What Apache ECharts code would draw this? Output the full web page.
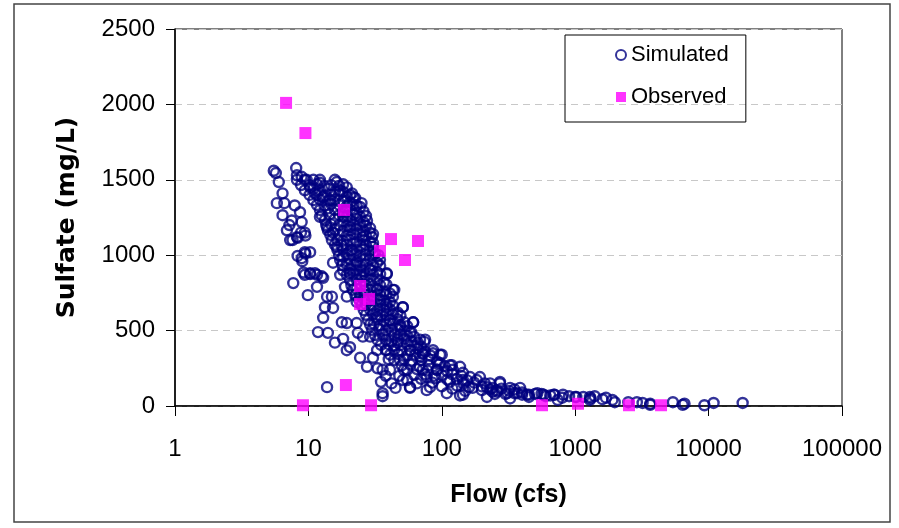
<!DOCTYPE html>
<html lang="en">
<head>
    <meta charset="UTF-8">
    <title>Sulfate vs Flow</title>
    <script src="https://cdn.jsdelivr.net/npm/echarts@6/dist/echarts.min.js"></script>
    <style>
        html, body { margin: 0; padding: 0; background: #fff; }
        #main { width: 899px; height: 528px; }
    </style>
</head>
<body>
<div id="main"></div>
<script type="text/javascript">
    // simulated points, [flow (cfs), sulfate (mg/L)]
    var leftBranch = [
        [5.5,1560],[5.7,1545],[6.0,1485],[6.4,1410],[5.8,1345],[6.6,1345],[7.9,1330],[6.4,1265],
        [7.5,1230],[8.9,1220],[6.9,1165],[8.2,1120],[9.4,1150],[8.65,1285],[7.3,1100],[8.3,995],
        [9.4,1020],[10.3,1020],[8.9,980],[7.7,815],[9.4,870],[10.3,875],[11.6,870],[12.9,850],
        [9.9,735],[11.6,790],[13.8,725],[15,725],[13.3,655],[15.3,650],[12.9,585],[11.8,490],
        [14,485],[17.8,555],[19.4,550],[23,550],[15.8,420],[18.2,445],[20.5,390],[19.4,370],
        [23.5,485],[25.6,460],[13.8,125],[36,65],[24.4,320],[27.5,260],[30.5,320],[32.7,370],
        [7.2,1200],[8.8,1150],[9.5,1130],[7.6,1100],[8.3,1115],[9.5,1010],[9.0,960],[9.2,885],
        [10.3,880],[11.2,880],[12.6,860]
    ];
    var mainBranch = [
        [8.1,1578],[8.2,1530],[8.9,1520],[9.7,1500],[10.3,1450],[12.2,1500],[11.2,1410],[12.9,1385],
        [16.3,1485],[17.3,1430],[14.5,1365],[21.2,1410],[22.4,1380],[25,1345],[12.2,1255],[13.8,1185],
        [15.3,1150],[18.2,1255],[20.5,1185],[27.5,1230],[29,1180],[25.6,1120],[30,1120],[34.4,970],
        [30.5,1055],[16.3,1055],[18.2,990],[21.2,1035],[23,950],[20.5,880],[25,855],[29,900],
        [38.7,875],[43,770],[15.3,950],[17.3,870],[18.8,790],[19.4,725],[23,690],[32.7,770],
        [34.4,705],[38.7,655],[51,655],[61,555],[32.7,590],[40.9,570],[48.6,525],[57.8,485],
        [68.7,440],[46.6,420],[57.8,370],[72,350],[38.7,370],[48.6,305],[40.9,240],[55,172],
        [65,150],[57.8,120],[77,192],[29,460]
    ];
    var denseCore = [
        [8.2,1500],[9.4,1500],[10.9,1500],[12.2,1480],[15.8,1500],[18.2,1470],
        [9.4,1430],[10.9,1440],[12.2,1430],[14,1440],[15.8,1420],[18.2,1420],[20.5,1400],
        [10.9,1365],[12.2,1370],[14,1360],[15.8,1370],[18.2,1360],[20.5,1350],[23,1330],
        [12.2,1300],[14,1310],[15.8,1300],[18.2,1290],[20.5,1300],[23,1280],[25.9,1290],
        [13.3,1233],[15.8,1240],[18.2,1225],[20.5,1230],[23,1240],[25.9,1220],
        [14,1165],[15.8,1170],[18.2,1160],[20.5,1165],[23,1170],[25.9,1160],[29,1150],
        [15,1100],[16.5,1100],[18.2,1095],[20.5,1100],[23,1090],[25.9,1100],[29,1085],
        [16.5,1035],[18.2,1040],[20.5,1030],[23,1035],[25.9,1040],[29,1030],[31.6,1010],
        [17.3,968],[20.5,970],[23,960],[25.9,968],[29,975],[32.7,950],
        [18.2,900],[20.5,910],[23,900],[25.9,895],[29,905],[32.7,890],
        [20.5,835],[23,840],[25.9,830],[29,835],[32.7,840],[36.8,820],
        [21.5,770],[23,775],[25.9,765],[29,770],[32.7,775],[36.8,760],[40.9,745],
        [24,703],[25.9,710],[29,700],[32.7,705],[36.8,700],[40.9,690],
        [26,636],[29,640],[32.7,630],[36.8,636],[40.9,640],[46.6,620],
        [28,570],[32.7,575],[36.8,565],[40.9,570],[46.6,575],[52.4,555],
        [30,505],[34,510],[38,500],[42,505],[46.6,510],[52.4,500],[58.9,490],
        [33,438],[38,440],[42,430],[46.6,438],[52.4,445],[58.9,430],[66,420],
        [38,370],[44,375],[50,365],[58,370],[66,380],[75,360],
        [44,305],[52,310],[60,300],[70,305],[80,310],[92,295],
        [55,240],[65,245],[78,235],[92,240],[110,230],
        [70,180],[90,185],[110,175],[130,180],[155,170],
        [100,130],[130,135],[160,125],[200,130],[240,120],
        [150,100],[200,105],[260,95],[320,100],[400,90],
        [300,80],[400,75],[500,80],[650,70],
        [450,60],[600,65],[800,55],[1000,60],[1300,50]
    ];
    var denseFill = [
        [8.8,1465],[10.2,1465],[11.6,1470],[13.2,1460],[14.8,1465],[17,1460],[19.4,1450],
        [10.2,1400],[11.6,1400],[13.2,1395],[14.8,1400],[17,1405],[19.4,1390],[21.8,1385],
        [11.6,1333],[13.2,1330],[14.8,1340],[17,1333],[19.4,1325],[21.8,1335],[24.4,1320],
        [12.6,1265],[14.4,1270],[17,1265],[19.4,1260],[21.8,1270],[24.4,1255],[27,1260],
        [13.6,1200],[14.8,1205],[17,1200],[19.4,1195],[21.8,1200],[24.4,1205],[27,1195],
        [14.6,1135],[17,1135],[19.4,1130],[21.8,1140],[24.4,1135],[27,1130],[30.5,1140],
        [15.8,1070],[17.7,1065],[19.4,1070],[21.8,1075],[24.4,1065],[27,1070],[30.5,1080],
        [17,1000],[19.4,1005],[21.8,1000],[24.4,995],[27,1000],[30.5,1005],[33.5,1000],
        [18,935],[19.4,940],[21.8,935],[24.4,930],[27,940],[30.5,935],[34.5,930],
        [19.4,870],[21.8,875],[24.4,870],[27,865],[30.5,870],[34.5,875],
        [21,800],[24.4,805],[27,800],[30.5,795],[34.5,800],[38.5,805],
        [22.5,735],[24.4,740],[27,735],[30.5,730],[34.5,735],[38.5,740],[43,725],
        [25,670],[27,675],[30.5,665],[34.5,670],[38.5,675],[43,665],
        [27,605],[30.5,610],[34.5,600],[38.5,605],[43,610],[49,600],
        [29,540],[31,545],[34.5,535],[38.5,540],[43,545],[49,535],[55,530],
        [31.5,470],[36,475],[40,465],[44,470],[49,475],[55,465],[62,460],
        [35,405],[40,410],[44,400],[49,405],[55,410],[62,400],[70,395],
        [41,340],[47,345],[55,335],[63,340],[72,345],[82,335],
        [50,270],[58,275],[68,265],[80,270],[95,275],[105,265],
        [62,205],[75,210],[88,200],[100,205],[120,210],[140,200],
        [85,155],[115,160],[145,150],[175,155],[210,150],
        [120,115],[170,120],[230,110],[280,115],[350,110],
        [250,80],[350,85],[450,75],[560,80],[700,75],
        [900,65],[1150,60],[1400,65],[1700,55]
    ];
    var tail = [
        [38.7,880],[44,770],[51,655],[61,555],[75,440],[86,370],[97,340],[115,270],
        [137,260],[163,192],[193,192],[230,150],[273,150],[325,120],[366,85],[109,85],
        [81.6,125],[137,70],[51,172],[57.8,125],[36,85],[36,240],[72,240],[92,240],
        [68.7,325],[97,285],[121,240],[144,220],[183,172],[218,125],[260,105],[310,85],
        [74,425],[86,350],[100,340],[119,270],[273,160],[386,120],[520,85],[580,75],
        [690,75],[810,75],[1020,60],[1290,60],[1600,45],[1900,40],[2500,25],[2900,25],
        [3200,20],[3650,15],[5400,25],[6600,15],[9300,5],[10900,20],[18000,20],[325,50],
        [435,75],[240,95],[144,172],[77,105],[144,75],[218,60],[740,40],[1290,40],
        [1980,25],[3650,8],[6400,8],
        [33,250],[38,200],[42,150],[45,120],[48,200],[40,310],[52,240],[35,160]
    ];

    // observed samples
    var observedFlow    = [6.8, 9.5, 18.5, 34.4, 41.6, 53, 66.3, 24.4, 28.5, 24.4, 19.1, 9.1, 29.5, 564, 1050, 2530, 4400];
    var observedSulfate = [2010, 1810, 1300, 1028, 1107, 968, 1094, 796, 710, 676, 139, 5, 5, 5, 15, 5, 5];

    var simulated = leftBranch.concat(mainBranch, denseCore, denseFill, tail);
    var observed = observedFlow.map(function (f, i) { return [f, observedSulfate[i]]; });

    var myChart = echarts.init(document.getElementById('main'));
    var font = 'Liberation Sans, Arial, sans-serif';

    var option = {
        animation: false,
        backgroundColor: '#fff',
        textStyle: { fontFamily: font, color: '#000' },
        graphic: [{
            type: 'rect',
            shape: { x: 14, y: 4, width: 876, height: 518 },
            style: { fill: 'none', stroke: '#444', lineWidth: 1.5 },
            silent: true
        }],
        grid: {
            left: 175, top: 29, right: 57, bottom: 122,
            show: true, borderColor: '#000', borderWidth: 1, backgroundColor: '#fff'
        },
        legend: {
            orient: 'vertical',
            left: 565, top: 35,
            padding: [9, 17, 14, 50],
            itemGap: 20,
            itemWidth: 10, itemHeight: 10,
            borderColor: '#000', borderWidth: 1,
            textStyle: { fontSize: 22, color: '#000', fontFamily: font },
            data: [
                { name: 'Simulated', icon: 'circle',
                  itemStyle: { color: '#fff', borderColor: '#000080', borderWidth: 2 } },
                { name: 'Observed', icon: 'rect',
                  itemStyle: { color: '#ff00ff', borderWidth: 0 } }
            ]
        },
        xAxis: {
            type: 'log', logBase: 10, min: 1, max: 100000,
            name: 'Flow (cfs)', nameLocation: 'middle', nameGap: 77,
            nameTextStyle: { fontSize: 25, fontWeight: 'bold', color: '#000', fontFamily: font },
            axisLine: { show: true, lineStyle: { color: '#000', width: 1.5 } },
            axisTick: { show: true, length: 10, lineStyle: { color: '#000' } },
            axisLabel: {
                margin: 31, fontSize: 24, color: '#000', fontFamily: font,
                formatter: function (v) { return String(v); }
            },
            splitLine: { show: false },
            minorTick: { show: false }
        },
        yAxis: {
            type: 'value', min: 0, max: 2500, interval: 500,
            name: 'Sulfate (mg/L)', nameLocation: 'middle', nameGap: 95,
            nameTextStyle: { fontSize: 25, fontWeight: 'bold', color: '#000', fontFamily: 'DejaVu Sans, sans-serif' },
            axisLine: { show: true, lineStyle: { color: '#000', width: 1.5 } },
            axisTick: { show: true, length: 9, lineStyle: { color: '#000' } },
            axisLabel: {
                margin: 20, fontSize: 24, color: '#000', fontFamily: font,
                formatter: function (v) { return String(v); }
            },
            splitLine: { show: true, lineStyle: { color: '#c8c8c8', type: [7, 5] } }
        },
        series: [{
            name: 'Simulated',
            type: 'scatter',
            symbol: 'circle',
            symbolSize: 10,
            itemStyle: { color: 'rgba(0,0,0,0)', borderColor: '#000080', borderWidth: 2.4 },
            data: simulated
        }, {
            name: 'Observed',
            type: 'scatter',
            symbol: 'rect',
            symbolSize: 12,
            itemStyle: { color: '#ff00ff' },
            data: observed
        }]
    };

    myChart.setOption(option);
</script>
</body>
</html>
